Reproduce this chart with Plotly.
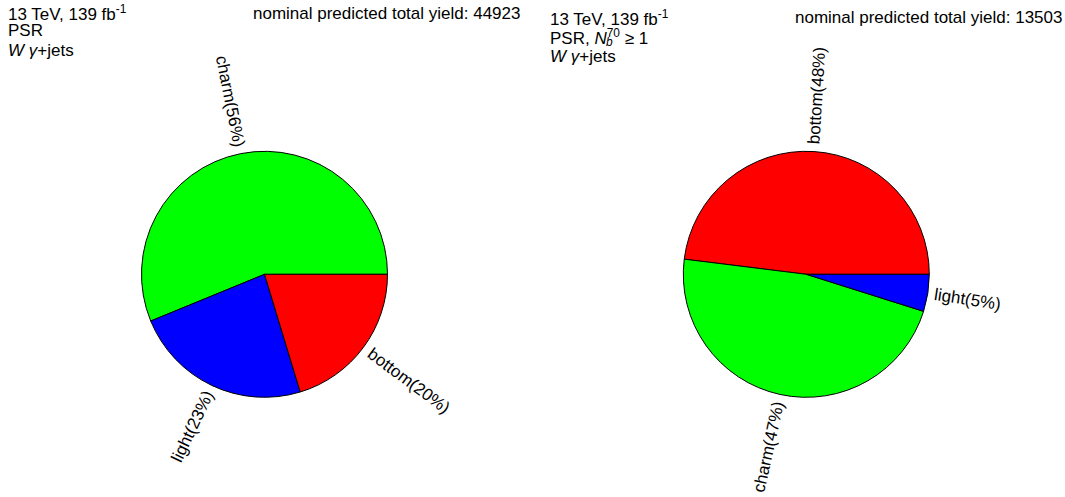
import math
import plotly.graph_objects as go

# ---- data -------------------------------------------------------------
left_categories = ["charm", "light", "bottom"]
left_yields = [25247, 10553, 9123]

right_categories = ["bottom", "charm", "light"]
right_yields = [6486, 6359, 658]

flavour_colors = {"charm": "#00ff00", "light": "#0000ff", "bottom": "#ff0000"}

left_header = ["13 TeV, 139 fb<sup>-1</sup>", "PSR", "<i>W</i> <i>γ</i>+jets"]
right_header = ["13 TeV, 139 fb<sup>-1</sup>", "PSR, <i>N</i><sup>70</sup> ≥ 1",
                "<i>W</i> <i>γ</i>+jets"]

# ---- layout constants -------------------------------------------------
W, H = 1065, 497
FONT = "Liberation Sans, Arial, Helvetica, sans-serif"
HEAD_SIZE = 17
LABEL_SIZE = 17
R = 123.0
LABEL_GAP = 7.0
pies = [
    dict(cx=264.5, cy=274.3, cats=left_categories, vals=left_yields,
         title_y=13.5),
    dict(cx=806.3, cy=274.3, cats=right_categories, vals=right_yields,
         title_y=17.5),
]

# approximate Arial/Liberation Sans advance widths (em)
ADV = {c: 0.556 for c in "0123456789abdeghnopqu"}
ADV.update({"c": 0.5, "r": 0.333, "m": 0.833, "(": 0.333, ")": 0.333,
            "%": 0.889, "t": 0.278, "l": 0.222, "i": 0.222, "f": 0.278})


def text_width(s, size):
    return sum(ADV.get(ch, 0.556) for ch in s) * size


def px(x):
    return x / W


def py(y):
    return 1 - y / H


fig = go.Figure()
annotations = []

for p in pies:
    cx, cy = p["cx"], p["cy"]
    total = sum(p["vals"])
    # first slice starts at 3 o'clock and the slices run counterclockwise
    first_deg = 360.0 * p["vals"][0] / total
    fig.add_trace(go.Pie(
        labels=p["cats"], values=p["vals"], sort=False,
        direction="counterclockwise", rotation=90.0 - first_deg,
        marker=dict(colors=[flavour_colors[c] for c in p["cats"]],
                    line=dict(color="black", width=1)),
        textinfo="none", hoverinfo="label+value+percent", showlegend=False,
        domain=dict(x=[px(cx - R), px(cx + R)], y=[py(cy + R), py(cy - R)]),
    ))
    # radial slice labels
    acc = 0.0
    for cat, v in zip(p["cats"], p["vals"]):
        f0 = acc / total
        acc += v
        f1 = acc / total
        theta = 360.0 * (f0 + f1) / 2.0
        label = f"{cat}({round(100.0 * v / total)}%)"
        d = R + LABEL_GAP + text_width(label, LABEL_SIZE) / 2.0
        rad = math.radians(theta)
        x = cx + d * math.cos(rad)
        y = cy - d * math.sin(rad)
        t = (-theta) % 360.0
        if 90.0 < t <= 270.0:
            t -= 180.0
        elif t > 270.0:
            t -= 360.0
        annotations.append(dict(
            x=px(x), y=py(y), xref="paper", yref="paper", text=label,
            textangle=t, showarrow=False, xanchor="center", yanchor="middle",
            font=dict(family=FONT, size=LABEL_SIZE, color="black")))

    # total yield title
    annotations.append(dict(
        x=px(cx + (522 - 264.5)), y=py(p["title_y"]), xref="paper",
        yref="paper", text=f"nominal predicted total yield: {total}",
        showarrow=False, xanchor="right", yanchor="middle",
        font=dict(family=FONT, size=HEAD_SIZE, color="black")))

# text blocks in the upper-left corner of each panel
for x0, ys, lines in [(5.5, [13.0, 31.0, 50.5], left_header),
                      (548.0, [18.5, 37.0, 56.5], right_header)]:
    for y, line in zip(ys, lines):
        annotations.append(dict(
            x=px(x0), y=py(y), xref="paper", yref="paper", text=line,
            showarrow=False, xanchor="left", yanchor="middle",
            font=dict(family=FONT, size=HEAD_SIZE, color="black")))

# subscript b under the 70 of N_b^70
annotations.append(dict(
    x=px(603.5), y=py(42.5), xref="paper", yref="paper", text="<i>b</i>",
    showarrow=False, xanchor="left", yanchor="middle",
    font=dict(family=FONT, size=HEAD_SIZE * 0.7, color="black")))

fig.update_layout(
    width=W, height=H, autosize=False,
    margin=dict(l=0, r=0, t=0, b=0),
    paper_bgcolor="white", plot_bgcolor="white",
    annotations=annotations,
)

fig.write_html("out.html")
